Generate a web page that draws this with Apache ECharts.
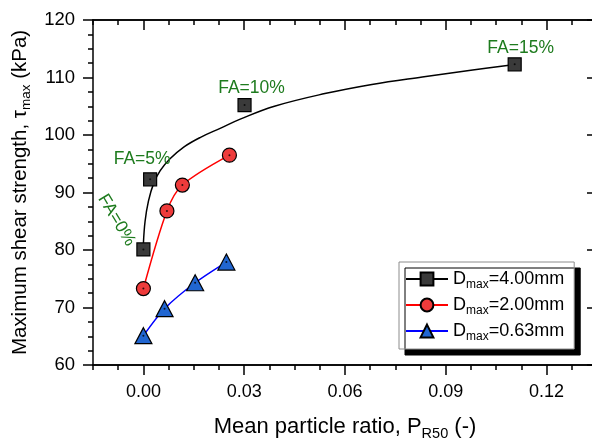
<!DOCTYPE html>
<html><head><meta charset="utf-8">
<script src="https://cdn.jsdelivr.net/npm/echarts@6/dist/echarts.min.js"></script>
<style>html,body{margin:0;padding:0;background:#fff}#c{width:592px;height:440px}</style>
</head><body><div id="c"></div>
<script>
// ---- data ----
const xTicks = [0.00, 0.03, 0.06, 0.09, 0.12];
const xTickLabels = ['0.00', '0.03', '0.06', '0.09', '0.12'];
const seriesNames = ['Dmax=4.00mm', 'Dmax=2.00mm', 'Dmax=0.63mm'];
const sizeLabels = ['4.00', '2.00', '0.63'];

const pr50_400 = [0.000, 0.0020, 0.0301, 0.1105];
const tau_400  = [80.1, 92.3, 105.2, 112.3];
const faLabels = ['FA=0%', 'FA=5%', 'FA=10%', 'FA=15%'];

const pr50_200 = [0.000, 0.0070, 0.0116, 0.0256];
const tau_200  = [73.3, 86.8, 91.3, 96.5];

const pr50_063 = [0.000, 0.0063, 0.0154, 0.0247];
const tau_063  = [65.1, 69.8, 74.3, 77.9];

// fitted curve for Dmax=4.00mm
const fitX_400 = [0.0000, 0.0005, 0.0015, 0.0030, 0.0050, 0.0080, 0.0120, 0.0170, 0.0230, 0.0290, 0.0390, 0.0540, 0.0680, 0.0830, 0.0980, 0.1100];
const fitY_400 = [81.1, 85.0, 88.5, 91.5, 93.8, 95.9, 97.9, 99.6, 101.2, 102.8, 105.0, 107.2, 108.8, 110.1, 111.3, 112.2];

// ---- styling ----
const FONT = '"Liberation Sans", Arial, sans-serif';
const GREEN = '#1e7b1e';
const faLabelOffsets = [[-39, 8], [-8, -20], [7, -17], [6, -16]];
const faLabelRotate = [-59, 0, 0, 0];

const xMin = -0.015, xMax = 0.135, xMinorStep = 0.0075;
const xMinor = [];
for (let k = 0; xMin + k * xMinorStep <= xMax + 1e-9; k++) xMinor.push(+(xMin + k * xMinorStep).toFixed(4));

const lineSt = { color: '#000', width: 1.5 };
function zip(a, b) { return a.map((v, i) => [v, b[i]]); }

const legendRich = {
  m: { fontSize: 18, fontFamily: FONT, color: '#000', lineHeight: 24 },
  s: { fontSize: 12, fontFamily: FONT, color: '#000', lineHeight: 12, verticalAlign: 'bottom' }
};
const xTitleRich = {
  m: { fontSize: 22, fontFamily: FONT, color: '#000', lineHeight: 28 },
  s: { fontSize: 14.5, fontFamily: FONT, color: '#000', lineHeight: 14, verticalAlign: 'bottom' }
};
const yTitleRich = {
  m: { fontSize: 20.5, fontFamily: FONT, color: '#000', lineHeight: 26 },
  s: { fontSize: 13.5, fontFamily: FONT, color: '#000', lineHeight: 13, verticalAlign: 'bottom' }
};

function xAxisDef(pos, ticks, len, inside, withLabel) {
  return {
    type: 'value', position: pos, min: xMin, max: xMax,
    axisLine: { show: true, onZero: false, lineStyle: lineSt },
    axisTick: { show: true, customValues: ticks, length: len, inside: inside, lineStyle: lineSt },
    axisLabel: withLabel ? {
      show: true, customValues: xTicks, margin: 18, fontSize: 18, fontFamily: FONT, color: '#000',
      formatter: v => { let best = 0; xTicks.forEach((t, i) => { if (Math.abs(t - v) < Math.abs(xTicks[best] - v)) best = i; }); return xTickLabels[best]; }
    } : { show: false },
    splitLine: { show: false }
  };
}

const chart = echarts.init(document.getElementById('c'), null, { renderer: 'canvas' });
const bottomMain = xAxisDef('bottom', xTicks, 10, false, true);
bottomMain.name = '{m|Mean particle ratio, P}{s|R50}{m| (-)}';
bottomMain.nameLocation = 'middle';
bottomMain.nameGap = 48;
bottomMain.nameTextStyle = { rich: xTitleRich, fontSize: 22, fontFamily: FONT, color: '#000' };

const option = {
  animation: false,
  backgroundColor: '#fff',
  grid: { left: 93, top: 20, right: -5, bottom: 75, containLabel: false, outerBoundsMode: 'none' },
  xAxis: [
    bottomMain,
    xAxisDef('bottom', xMinor, 5, false, false),
    xAxisDef('top', xTicks, 10, true, false),
    xAxisDef('top', xMinor, 5, true, false)
  ],
  yAxis: [
    {
      type: 'value', position: 'left', min: 60, max: 120, interval: 10,
      axisLine: { show: true, onZero: false, lineStyle: lineSt },
      axisTick: { show: true, length: 10, lineStyle: lineSt },
      minorTick: { show: true, splitNumber: 4, length: 5, lineStyle: lineSt },
      axisLabel: { margin: 18, fontSize: 18.5, fontFamily: FONT, color: '#000' },
      splitLine: { show: false },
      name: '{m|Maximum shear strength, τ}{s|max}{m| (kPa)}',
      nameLocation: 'middle', nameGap: 60, nameRotate: 90,
      nameTextStyle: { rich: yTitleRich, fontSize: 20.5, fontFamily: FONT, color: '#000' }
    },
    {
      type: 'value', position: 'right', min: 60, max: 120, interval: 10,
      axisLine: { show: true, onZero: false, lineStyle: lineSt },
      axisTick: { show: true, inside: true, length: 10, lineStyle: lineSt },
      minorTick: { show: true, splitNumber: 4, length: 5, lineStyle: lineSt },
      axisLabel: { show: false },
      splitLine: { show: false }
    }
  ],
  legend: {
    data: seriesNames,
    orient: 'vertical', left: 399, top: 262,
    itemWidth: 42, itemHeight: 16, itemGap: 5,
    padding: [8, 10, 6, 6],
    backgroundColor: '#fff', borderColor: '#8c8c8c', borderWidth: 1, borderRadius: 0,
    shadowColor: '#000', shadowBlur: 0, shadowOffsetX: 6, shadowOffsetY: 6,
    selectedMode: false,
    formatter: name => '{m|D}{s|max}{m|=' + sizeLabels[seriesNames.indexOf(name)] + 'mm}',
    textStyle: { rich: legendRich, fontSize: 18, fontFamily: FONT, color: '#000' }
  },
  series: [
    {
      name: seriesNames[0], type: 'line', data: zip(fitX_400, fitY_400),
      showSymbol: false, symbol: 'rect', symbolSize: 13, smooth: 0.4,
      lineStyle: { color: '#000', width: 1.5 },
      itemStyle: { color: '#3a3a3a', borderColor: '#000', borderWidth: 1.2 }, z: 2
    },
    {
      name: 'points400', type: 'scatter', symbol: 'rect', symbolSize: 13,
      itemStyle: { color: '#3a3a3a', borderColor: '#000', borderWidth: 1.2, opacity: 1 }, z: 3,
      data: pr50_400.map((x, i) => ({
        value: [x, tau_400[i]],
        label: { offset: faLabelOffsets[i], rotate: faLabelRotate[i] }
      })),
      label: {
        show: true, position: 'inside', color: GREEN, fontSize: 17.5, fontFamily: FONT,
        formatter: p => faLabels[p.dataIndex]
      }
    },
    {
      name: seriesNames[1], type: 'line', data: zip(pr50_200, tau_200),
      symbol: 'circle', symbolSize: 14, showSymbol: true, smooth: 0.3,
      lineStyle: { color: '#ff0000', width: 1.5 },
      itemStyle: { color: '#ee3b3b', borderColor: '#000', borderWidth: 1.2 }, z: 3
    },
    {
      name: seriesNames[2], type: 'line', data: zip(pr50_063, tau_063),
      symbol: 'triangle', symbolSize: [17, 16], showSymbol: true, smooth: 0.3,
      lineStyle: { color: '#0000ff', width: 1.5 },
      itemStyle: { color: '#2166d1', borderColor: '#000', borderWidth: 1.2 }, z: 3
    },
    {
      name: 'dots', type: 'scatter', symbol: 'circle', symbolSize: 2, silent: true, z: 5,
      itemStyle: { color: '#000' },
      data: zip(pr50_400, tau_400).concat(zip(pr50_200, tau_200), zip(pr50_063, tau_063))
    }
  ]
};
chart.setOption(option);
</script>
</body></html>
